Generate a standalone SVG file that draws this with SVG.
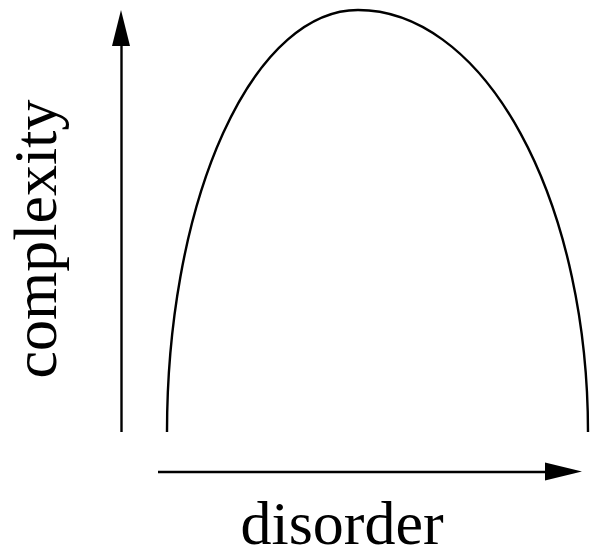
<svg xmlns="http://www.w3.org/2000/svg" width="599" height="559" viewBox="0 0 599 559">
  <style>
    .ln { stroke: #000; stroke-width: 2.4; fill: none; }
    .hd { fill: #000; stroke: none; }
    .lbl { font-family: "Liberation Serif", "Times New Roman", serif; font-size: 62px; fill: #000; }
  </style>
  <rect width="599" height="559" fill="#fff"/>
  <g id="connectors">
    <line class="ln" x1="121.5" y1="432" x2="121.5" y2="44"/>
    <polygon class="hd" points="121,10 112,46 130,46"/>
    <line class="ln" x1="158" y1="472" x2="546" y2="472"/>
    <polygon class="hd" points="582,471.5 545,462.5 545,480.5"/>
  </g>
  <g id="curve">
    <path class="ln" stroke-width="2.2" d="M167,432 A191,422 0 0 1 358,10 A230,422 0 0 1 588,432"/>
  </g>
  <g id="y-label">
    <text class="lbl" transform="translate(56,239) rotate(-90)" text-anchor="middle">complexity</text>
  </g>
  <g id="x-label">
    <text class="lbl" x="342" y="544" text-anchor="middle">disorder</text>
  </g>
</svg>
